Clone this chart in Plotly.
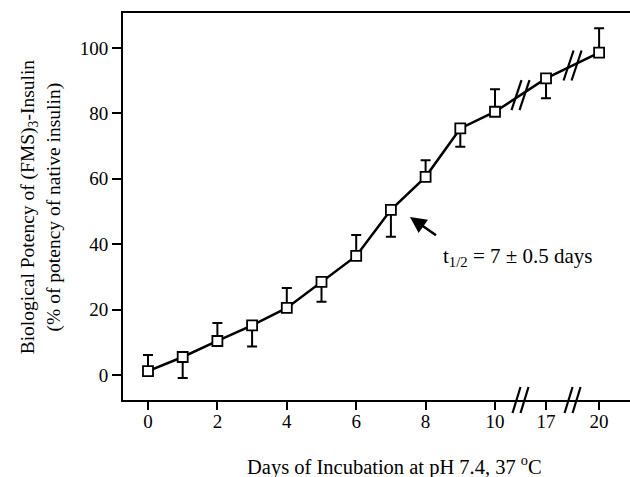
import plotly.graph_objects as go

# ---- data ----
days = [0, 1, 2, 3, 4, 5, 6, 7, 8, 9, 10, 17, 20]
potency = [1.2, 5.5, 10.4, 15.2, 20.5, 28.5, 36.4, 50.5, 60.6, 75.4, 80.5, 90.7, 98.6]
err_up = [4.9, 0, 5.5, 0, 6.1, 0, 6.4, 0, 5.1, 0, 6.9, 0, 7.4]
err_down = [0, 6.4, 0, 6.5, 0, 6.1, 0, 8.2, 0, 5.6, 0, 6.1, 0]
x_tick_labels = ["0", "2", "4", "6", "8", "10", "17", "20"]
x_tick_days = [0, 2, 4, 6, 8, 10, 17, 20]
y_ticks = [0, 20, 40, 60, 80, 100]

# broken axis: days after 10 are compressed
def pos(d):
    if d <= 10:
        return d
    if d <= 17:
        return 10 + (d - 10) * (1.47 / 7)
    return 11.47 + (d - 17) * (1.53 / 3)

xp = [pos(d) for d in days]
FONT = "Liberation Serif"

fig = go.Figure()
fig.add_trace(go.Scatter(
    x=xp, y=potency, mode="lines+markers",
    line=dict(color="black", width=2.5),
    marker=dict(symbol="square", size=10, color="white",
                line=dict(color="black", width=1.8)),
    error_y=dict(type="data", symmetric=False, array=err_up, arrayminus=err_down,
                 color="black", thickness=2, width=5),
    showlegend=False, cliponaxis=False,
))

shapes = []
# break marks on data line and on axis
idx10 = days.index(10)
for i in (idx10, idx10 + 1):
    xm = (xp[i] + xp[i + 1]) / 2
    ym = (potency[i] + potency[i + 1]) / 2
    for off in (-4, 4):
        shapes.append(dict(type="line", xref="x", yref="y", xsizemode="pixel", ysizemode="pixel",
                           xanchor=xm, yanchor=ym, x0=off - 5, x1=off + 5, y0=-15, y1=15,
                           line=dict(color="black", width=2.2)))
        shapes.append(dict(type="line", xref="x", yref="paper", xsizemode="pixel", ysizemode="pixel",
                           xanchor=xm, yanchor=0, x0=off - 4, x1=off + 4, y0=-13, y1=13,
                           line=dict(color="black", width=2.2)))

annotations = [
    dict(x=pos(7) + 0.55, y=48.3, xref="x", yref="y", text=" ", showarrow=True,
         arrowhead=2, arrowsize=1.3, arrowwidth=2.5, arrowcolor="black", ax=30, ay=21),
    dict(x=8.44, y=36.1, xref="x", yref="y", xanchor="left", yanchor="middle",
         text="t<sub>1/2</sub> = 7 ± 0.5 days", showarrow=False,
         font=dict(family=FONT, size=21, color="black")),
    dict(x=-0.162, y=0.5, xref="paper", yref="paper", textangle=-90,
         text="Biological Potency of (FMS)<sub>3</sub>-Insulin<br>(% of potency of native insulin)",
         showarrow=False, xanchor="center", yanchor="middle",
         font=dict(family=FONT, size=19.5, color="black")),
    dict(x=0.535, y=-0.17, xref="paper", yref="paper",
         text="Days of Incubation at pH 7.4, 37 <sup>o</sup>C", showarrow=False,
         xanchor="center", yanchor="middle",
         font=dict(family=FONT, size=20.5, color="black")),
]

fig.update_layout(
    width=630, height=477,
    margin=dict(l=123, r=0, t=13, b=77),
    paper_bgcolor="white", plot_bgcolor="white",
    font=dict(family=FONT, size=19, color="black"),
    shapes=shapes, annotations=annotations,
    xaxis=dict(range=[-0.72, 13.89], tickvals=[pos(d) for d in x_tick_days], ticktext=x_tick_labels,
               showline=True, linecolor="black", linewidth=2, mirror=True,
               ticks="outside", ticklen=8, tickwidth=2, tickcolor="black",
               ticklabelstandoff=-5,
               showgrid=False, zeroline=False),
    yaxis=dict(range=[-7.65, 110.7], tickvals=y_ticks,
               showline=True, linecolor="black", linewidth=2,
               ticks="outside", ticklen=9, tickwidth=1.5, tickcolor="black",
               showgrid=False, zeroline=False),
)
fig.write_html("out.html")
